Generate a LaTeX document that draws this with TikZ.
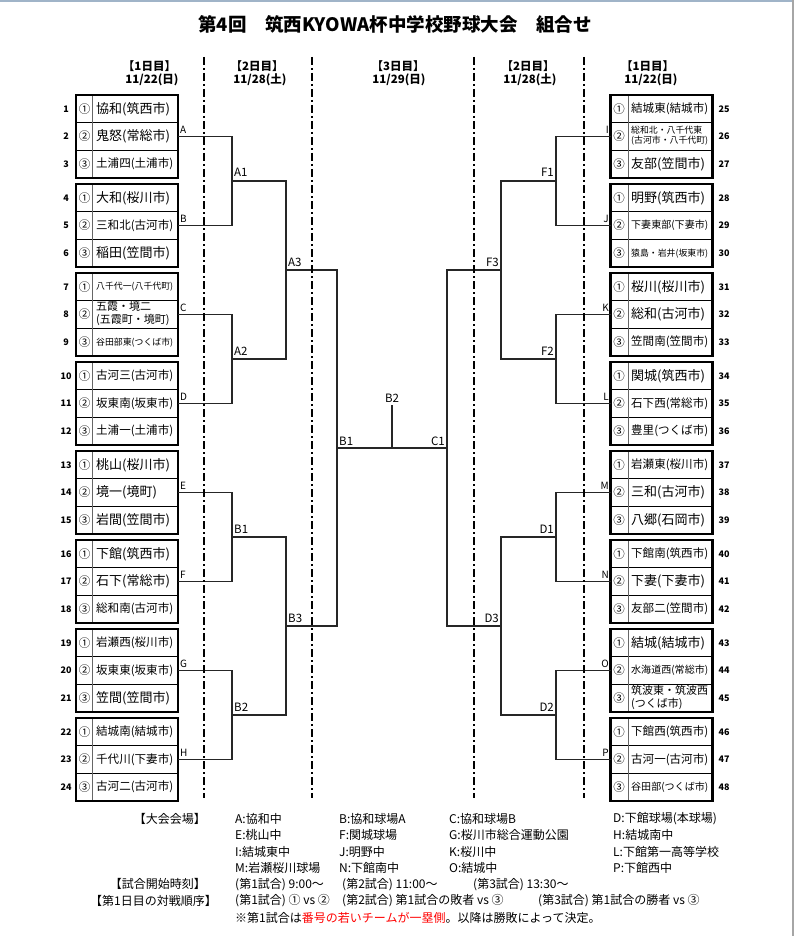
\documentclass[tikz,border=0pt]{standalone}
\usepackage{fontspec}
\setmainfont{Noto Sans CJK JP}
\usepackage{graphicx}
\newsavebox\tnbox
\newcommand\tnfit[1]{\sbox\tnbox{#1}\ifdim\wd\tnbox>77pt\resizebox{77pt}{!}{\usebox\tnbox}\else\usebox\tnbox\fi}
\newcommand\twol[2]{\fontsize{11}{12.5}\selectfont\begin{tabular}{@{}l@{}}#1\\#2\end{tabular}}
% left group: #1 index, #2-#4 names
\newcommand\LG[4]{%
  \pgfmathsetmacro\zzgy{95+89*#1}%
  \pgfmathtruncatemacro\zzka{3*#1+1}\pgfmathtruncatemacro\zzkb{3*#1+2}\pgfmathtruncatemacro\zzkc{3*#1+3}%
  \draw[inl] (76,\zzgy+27.67) -- (178,\zzgy+27.67) (76,\zzgy+55.33) -- (178,\zzgy+55.33);
  \draw[sepl] (92.7,\zzgy) -- (92.7,\zzgy+83);
  \node[grp] (Lg#1) at (127,\zzgy+41.5) {};
  \node[cn] (Lc\zzka) at (84.5,\zzgy+13.83) {①};
  \node[cn] (Lc\zzkb) at (84.5,\zzgy+41.5) {②};
  \node[cn] (Lc\zzkc) at (84.5,\zzgy+69.17) {③};
  \node[tn] (Lt\zzka) at (96,\zzgy+13.83) {\tnfit{#2}};
  \node[tn] (Lt\zzkb) at (96,\zzgy+41.5) {\tnfit{#3}};
  \node[tn] (Lt\zzkc) at (96,\zzgy+69.17) {\tnfit{#4}};
  \node[num] (Ln\zzka) at (66,\zzgy+13.83) {\zzka};
  \node[num] (Ln\zzkb) at (66,\zzgy+41.5) {\zzkb};
  \node[num] (Ln\zzkc) at (66,\zzgy+69.17) {\zzkc};
}
\newcommand\RG[4]{%
  \pgfmathsetmacro\zzgy{95+89*#1}%
  \pgfmathtruncatemacro\zzka{3*#1+25}\pgfmathtruncatemacro\zzkb{3*#1+26}\pgfmathtruncatemacro\zzkc{3*#1+27}%
  \draw[inl] (610,\zzgy+27.67) -- (713,\zzgy+27.67) (610,\zzgy+55.33) -- (713,\zzgy+55.33);
  \draw[sepl] (628,\zzgy) -- (628,\zzgy+83);
  \node[grp] (Rg#1) at (661.5,\zzgy+41.5) {};
  \node[cn] (Rc\zzka) at (619,\zzgy+13.83) {①};
  \node[cn] (Rc\zzkb) at (619,\zzgy+41.5) {②};
  \node[cn] (Rc\zzkc) at (619,\zzgy+69.17) {③};
  \node[tn] (Rt\zzka) at (631,\zzgy+13.83) {\tnfit{#2}};
  \node[tn] (Rt\zzkb) at (631,\zzgy+41.5) {\tnfit{#3}};
  \node[tn] (Rt\zzkc) at (631,\zzgy+69.17) {\tnfit{#4}};
  \node[num] (Rn\zzka) at (724,\zzgy+13.83) {\zzka};
  \node[num] (Rn\zzkb) at (724,\zzgy+41.5) {\zzkb};
  \node[num] (Rn\zzkc) at (724,\zzgy+69.17) {\zzkc};
}
\begin{document}
\begin{tikzpicture}[x=1pt,y=-1pt,
  grp/.style={draw=black, line width=2.4pt, minimum width=102pt, minimum height=83pt, inner sep=0pt, outer sep=0pt},
  inl/.style={draw=black, line width=0.9pt},
  sepl/.style={draw=black!60, line width=0.9pt},
  tn/.style={anchor=west, inner sep=0pt, font=\fontsize{13}{15}\selectfont},
  cn/.style={inner sep=0pt, font=\fontsize{11.5}{13}\selectfont},
  num/.style={inner sep=0pt, font=\fontsize{9}{10}\selectfont\bfseries},
  ltr/.style={inner sep=0pt, font=\fontsize{10}{11}\selectfont},
  rnd/.style={inner sep=0pt, font=\fontsize{11.5}{12}\selectfont},
  br/.style={draw=black!85, line width=1.1pt},
  dd/.style={draw=black, line width=2pt, dash pattern=on 8pt off 3pt on 2pt off 3pt},
  lg/.style={anchor=west, inner sep=0pt, font=\fontsize{12}{14}\selectfont},
  lgh/.style={anchor=east, inner sep=0pt, font=\fontsize{12}{14}\selectfont},
  hd/.style={inner sep=0pt, font=\fontsize{11.5}{13}\selectfont\bfseries}
]
\useasboundingbox (0,0) rectangle (794,936);
\fill[white] (0,0) rectangle (794,936);
\fill[color={rgb,255:red,160;green,180;blue,200}] (0,0) rectangle (794,1.6);
\fill[color=black!35] (791.6,0) rectangle (794,936);

% title and headers
\node[inner sep=0pt, font=\fontsize{18.5}{20}\selectfont\bfseries] (title) at (395,24) {第4回　筑西KYOWA杯中学校野球大会　組合せ};
\node[hd] (h1) at (149.5,66) {【1日目】};
\node[hd] (d1) at (152,80) {11/22(日)};
\node[hd] (h2) at (257,66) {【2日目】};
\node[hd] (d2) at (260,80) {11/28(土)};
\node[hd] (h3) at (398,66) {【3日目】};
\node[hd] (d3) at (399,80) {11/29(日)};
\node[hd] (h4) at (528,66) {【2日目】};
\node[hd] (d4) at (530,80) {11/28(土)};
\node[hd] (h5) at (647.5,66) {【1日目】};
\node[hd] (d5) at (651,80) {11/22(日)};

% groups
\LG{0}{協和(筑西市)}{鬼怒(常総市)}{土浦四(土浦市)}
\LG{1}{大和(桜川市)}{三和北(古河市)}{稲田(笠間市)}
\LG{2}{八千代一(八千代町)}{\twol{五霞・境二}{(五霞町・境町)}}{谷田部東(つくば市)}
\LG{3}{古河三(古河市)}{坂東南(坂東市)}{土浦一(土浦市)}
\LG{4}{桃山(桜川市)}{境一(境町)}{岩間(笠間市)}
\LG{5}{下館(筑西市)}{石下(常総市)}{総和南(古河市)}
\LG{6}{岩瀬西(桜川市)}{坂東東(坂東市)}{笠間(笠間市)}
\LG{7}{結城南(結城市)}{千代川(下妻市)}{古河二(古河市)}
\RG{0}{結城東(結城市)}{\twol{総和北・八千代東}{(古河市・八千代町)}}{友部(笠間市)}
\RG{1}{明野(筑西市)}{下妻東部(下妻市)}{猿島・岩井(坂東市)}
\RG{2}{桜川(桜川市)}{総和(古河市)}{笠間南(笠間市)}
\RG{3}{関城(筑西市)}{石下西(常総市)}{豊里(つくば市)}
\RG{4}{岩瀬東(桜川市)}{三和(古河市)}{八郷(石岡市)}
\RG{5}{下館南(筑西市)}{下妻(下妻市)}{友部二(笠間市)}
\RG{6}{結城(結城市)}{水海道西(常総市)}{\twol{筑波東・筑波西}{(つくば市)}}
\RG{7}{下館西(筑西市)}{古河一(古河市)}{谷田部(つくば市)}

% junction coordinates
\coordinate (jA1) at (232,181);
\coordinate (jA2) at (232,359);
\coordinate (jB1) at (232,537);
\coordinate (jB2) at (232,715);
\coordinate (jA3) at (286,270);
\coordinate (jB3) at (286,626);
\coordinate (jCB1) at (337,448);
\coordinate (jCC1) at (447,448);
\coordinate (jCB2) at (392,405);
\coordinate (jF1) at (556,181);
\coordinate (jF2) at (556,359);
\coordinate (jD1) at (556,537);
\coordinate (jD2) at (556,715);
\coordinate (jF3) at (501,270);
\coordinate (jD3) at (501,626);

% brackets left
\draw[br] (Lg0.east) -| (jA1) |- (Lg1.east);
\draw[br] (Lg2.east) -| (jA2) |- (Lg3.east);
\draw[br] (Lg4.east) -| (jB1) |- (Lg5.east);
\draw[br] (Lg6.east) -| (jB2) |- (Lg7.east);
\draw[br] (jA1) -| (jA3) |- (jA2);
\draw[br] (jB1) -| (jB3) |- (jB2);
\draw[br] (jA3) -| (jCB1) |- (jB3);
% center
\draw[br] (jCB1) -- (jCC1);
\draw[br] (jCB2) -- (jCB2 |- jCB1);
% brackets right
\draw[br] (jF3) -| (jCC1) |- (jD3);
\draw[br] (jF1) -| (jF3) |- (jF2);
\draw[br] (jD1) -| (jD3) |- (jD2);
\draw[br] (Rg0.west) -| (jF1) |- (Rg1.west);
\draw[br] (Rg2.west) -| (jF2) |- (Rg3.west);
\draw[br] (Rg4.west) -| (jD1) |- (Rg5.west);
\draw[br] (Rg6.west) -| (jD2) |- (Rg7.west);

% dash-dot separators
\draw[dd] (204,57) -- (204,798);
\draw[dd] (312,57) -- (312,798);
\draw[dd] (474,57) -- (474,798);
\draw[dd] (584,57) -- (584,798);

% letter labels
\foreach \i/\l in {0/A,1/B,2/C,3/D,4/E,5/F,6/G,7/H} {
  \node[ltr, anchor=base west] (lab\l) at (180,95+89*\i+41.5-2.7) {\l};
}
\foreach \i/\l in {0/I,1/J,2/K,3/L,4/M,5/N,6/O,7/P} {
  \node[ltr, anchor=base east] (lab\l) at (609,95+89*\i+41.5-2.7) {\l};
}
% round labels
\node[rnd, anchor=base west] (lA1) at ([shift={(2,-4)}]jA1) {A1};
\node[rnd, anchor=base west] (lA2) at ([shift={(2,-4)}]jA2) {A2};
\node[rnd, anchor=base west] (lB1) at ([shift={(2,-4)}]jB1) {B1};
\node[rnd, anchor=base west] (lB2) at ([shift={(2,-4)}]jB2) {B2};
\node[rnd, anchor=base west] (lA3) at ([shift={(2,-4)}]jA3) {A3};
\node[rnd, anchor=base west] (lB3) at ([shift={(2,-4)}]jB3) {B3};
\node[rnd, anchor=base west] (lCB1) at ([shift={(2,-3)}]jCB1) {B1};
\node[rnd, anchor=base east] (lCC1) at ([shift={(-2,-3)}]jCC1) {C1};
\node[rnd, anchor=base] (lCB2) at ([shift={(0,-3)}]jCB2) {B2};
\node[rnd, anchor=base east] (lF1) at ([shift={(-2,-4)}]jF1) {F1};
\node[rnd, anchor=base east] (lF2) at ([shift={(-2,-4)}]jF2) {F2};
\node[rnd, anchor=base east] (lD1) at ([shift={(-2,-4)}]jD1) {D1};
\node[rnd, anchor=base east] (lD2) at ([shift={(-2,-4)}]jD2) {D2};
\node[rnd, anchor=base east] (lF3) at ([shift={(-2,-4)}]jF3) {F3};
\node[rnd, anchor=base east] (lD3) at ([shift={(-2,-4)}]jD3) {D3};

% legend
\node[lgh] (vh) at (206,819) {【大会会場】};
\node[lg] (vA) at (235,819) {A:協和中};
\node[lg] (vB) at (339,819) {B:協和球場A};
\node[lg] (vC) at (449,819) {C:協和球場B};
\node[lg] (vD) at (613,819) {D:下館球場(本球場)};
\node[lg] (vE) at (235,835.3) {E:桃山中};
\node[lg] (vF) at (339,835.3) {F:関城球場};
\node[lg] (vG) at (449,835.3) {G:桜川市総合運動公園};
\node[lg] (vH) at (613,835.3) {H:結城南中};
\node[lg] (vI) at (235,851.6) {I:結城東中};
\node[lg] (vJ) at (339,851.6) {J:明野中};
\node[lg] (vK) at (449,851.6) {K:桜川中};
\node[lg] (vL) at (613,851.6) {L:下館第一高等学校};
\node[lg] (vM) at (235,867.9) {M:岩瀬桜川球場};
\node[lg] (vN) at (339,867.9) {N:下館南中};
\node[lg] (vO) at (449,867.9) {O:結城中};
\node[lg] (vP) at (613,867.9) {P:下館西中};
\node[lgh] (th) at (206,884.3) {【試合開始時刻】};
\node[lg] (t1) at (235,884.3) {(第1試合) 9:00～};
\node[lg] (t2) at (342,884.3) {(第2試合) 11:00～};
\node[lg] (t3) at (473,884.3) {(第3試合) 13:30～};
\node[lgh] (oh) at (217,901) {【第1日目の対戦順序】};
\node[lg] (o1) at (235,901) {(第1試合) ① vs ②};
\node[lg] (o2) at (342,901) {(第2試合) 第1試合の敗者 vs ③};
\node[lg] (o3) at (538,901) {(第3試合) 第1試合の勝者 vs ③};
\node[lg] (note) at (235,917.7) {※第1試合は\textcolor{red}{番号の若いチームが一塁側}。以降は勝敗によって決定。};
\end{tikzpicture}
\end{document}
